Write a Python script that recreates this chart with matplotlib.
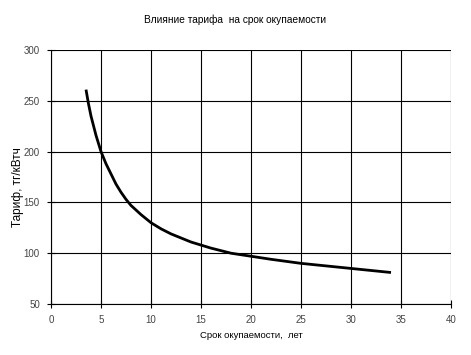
import matplotlib.pyplot as plt

# years of payback vs tariff
years = [3.5, 3.75, 4, 4.5, 5, 5.5, 6, 6.5, 7, 7.5, 8, 9, 10, 11, 12, 14, 16,
         18, 20, 22, 25, 28, 30, 34]
tariff = [261, 247, 235, 216, 200, 188, 178, 168, 160, 153, 147, 138, 130,
          124, 119, 111, 105, 100, 97, 94, 90, 87, 85, 81]

xticks = [0, 5, 10, 15, 20, 25, 30, 35, 40]
yticks = [50, 100, 150, 200, 250, 300]

plt.rcParams['font.family'] = ['Liberation Sans', 'DejaVu Sans']

fig = plt.figure(figsize=(4.71, 3.55), dpi=100)
ax = fig.add_axes([51 / 471, 1 - 304 / 355, 400 / 471, 254 / 355])

ax.plot(years, tariff, color='black', lw=2, solid_capstyle='butt',
        solid_joinstyle='round')

ax.set_xlim(0, 40)
ax.set_ylim(50, 300)
ax.set_xticks(xticks)
ax.set_yticks(yticks)
ax.grid(True, color='black', lw=0.8)
for side in ['top', 'right']:
    ax.spines[side].set_visible(False)
for side in ['left', 'bottom']:
    ax.spines[side].set_linewidth(0.8)
ax.tick_params(direction='inout', length=6, width=0.8, labelsize=7,
               labelcolor='#444444', pad=5)

fig.text(0.5, 1 - 20 / 355, 'Влияние тарифа  на срок окупаемости',
         ha='center', va='center', fontsize=7.3)
ax.set_xlabel('Срок окупаемости,  лет', fontsize=6.8, labelpad=4)
ax.set_ylabel('Тариф, тг/кВтч', fontsize=8.5)
ax.yaxis.set_label_coords(-0.068, 0.46)

fig.savefig('out.png', dpi=100)
